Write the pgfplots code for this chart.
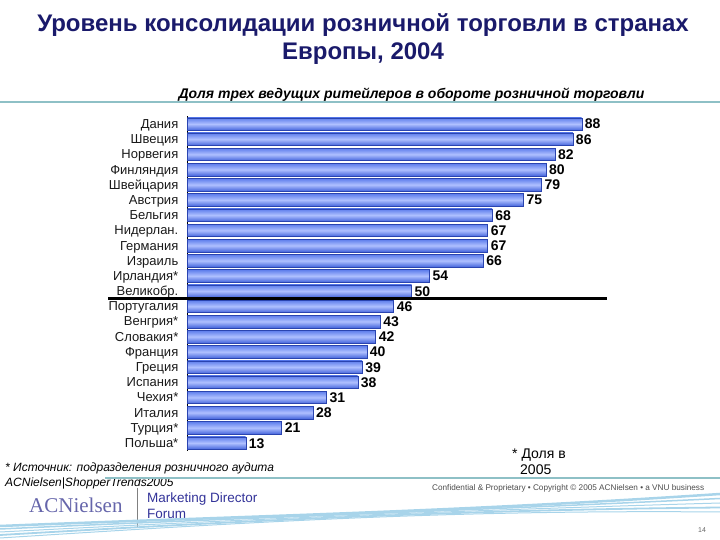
\documentclass[border=0pt]{standalone}
\usepackage{fontspec}
\setmainfont{Liberation Sans}
\newfontfamily\serifx{Liberation Serif}
\usepackage{pgfplots}
\pgfplotsset{compat=1.18}
\definecolor{navy}{HTML}{1A1A6B}
\definecolor{teal1}{HTML}{8EC0C6}
\definecolor{bartop}{HTML}{5C7CEB}
\definecolor{barbot}{HTML}{4565DC}
\definecolor{barlight}{HTML}{AFC0FF}
\definecolor{barline}{HTML}{2A44B0}
\definecolor{wave}{HTML}{A8D4EA}
\begin{document}
\begin{tikzpicture}[x=1pt,y=1pt]
\path[use as bounding box] (0,0) rectangle (720,540);
% title
\node[font=\fontsize{24}{28}\selectfont\bfseries, text=navy, align=center] at (363,501) {Уровень консолидации розничной торговли в странах\\Европы, 2004};
\draw[teal1, line width=2.5pt] (0,438) -- (720,438);
\node[font=\fontsize{14}{16}\selectfont\bfseries\itshape] at (411.5,445) {Доля трех ведущих ритейлеров в обороте розничной торговли};
\begin{axis}[
  at={(187.5pt,89.4pt)}, anchor=south west,
  scale only axis, width=448pt, height=334.2pt,
  xmin=0, xmax=100, ymin=-0.5, ymax=21.5,
  axis x line=none, axis y line*=left,
  axis line style={black, line width=0.6pt},
  xbar, bar width=12.5pt, bar shift=0pt,
  ytick={0,...,21},
  yticklabels={Польша*,Турция*,Италия,Чехия*,Испания,Греция,Франция,Словакия*,Венгрия*,Португалия,Великобр.,Ирландия*,Израиль,Германия,Нидерлан.,Бельгия,Австрия,Швейцария,Финляндия,Норвегия,Швеция,Дания},
  yticklabel style={font=\fontsize{13}{15}\selectfont, text=black!90, inner sep=0pt, xshift=-9pt, text height=9.5pt, text depth=0.5pt},
  major tick length=0pt,
  clip=false,
  nodes near coords,
  nodes near coords style={font=\fontsize{14}{16}\selectfont\bfseries, anchor=west, xshift=3pt, inner sep=0pt, text height=10pt, text depth=0pt, /pgf/number format/assume math mode=true},
]
\pgfplotsforeachungrouped \v/\i in {13/0,21/1,28/2,31/3,38/4,39/5,40/6,42/7,43/8,46/9,50/10,54/11,66/12,67/13,67/14,68/15,75/16,79/17,80/18,82/19,86/20,88/21}{
  \edef\tmp{\noexpand\addplot[draw=barline, line width=0.4pt, shading=axis, top color=bartop, bottom color=barbot, middle color=barlight] coordinates {(\v,\i)};}
  \tmp
}
\end{axis}
\draw[black, line width=3pt] (108,241.5) -- (607,241.5);
% footer
\node[font=\fontsize{12}{14}\selectfont\itshape, anchor=west, inner sep=0pt] at (5,72) {* Источник: подразделения розничного аудита};
\node[font=\fontsize{12}{14}\selectfont\itshape, anchor=west, inner sep=0pt] at (5,57) {ACNielsen|ShopperTrends2005};
\node[font=\fontsize{14}{16}\selectfont, anchor=west, inner sep=0pt] at (512,85) {* Доля в};
\node[font=\fontsize{14}{16}\selectfont, anchor=west, inner sep=0pt] at (520,70) {2005};
\draw[teal1, line width=1.5pt] (105,62) -- (720,62);
\node[font=\fontsize{8.2}{9}\selectfont, text=black!70, anchor=west, inner sep=0pt] at (432,52) {Confidential \& Proprietary • Copyright © 2005 ACNielsen • a VNU business};
\node[font=\serifx\fontsize{21}{24}\selectfont, text=black!55!blue!60, anchor=west, inner sep=0pt] at (29,35) {ACNielsen};
\draw[gray, line width=1pt] (137,52) -- (137,12);
\node[font=\fontsize{13.5}{15}\selectfont, text=blue!50!black!80, anchor=west, inner sep=0pt] at (147,41) {Marketing Director};
\node[font=\fontsize{13.5}{15}\selectfont, text=blue!50!black!80, anchor=west, inner sep=0pt] at (147,26) {Forum};
\foreach \s/\w in {0/2.5,3/1.5,6/1,9/1.8,12/1} {
  \draw[wave, line width=\w pt] (0,{14-\s}) .. controls (250,{24-\s*0.5}) and (450,{28+\s*0.2}) .. (720,{46-\s*1.5});
}
\node[font=\fontsize{7}{8}\selectfont, text=black!60] at (702,10) {14};
\end{tikzpicture}
\end{document}
